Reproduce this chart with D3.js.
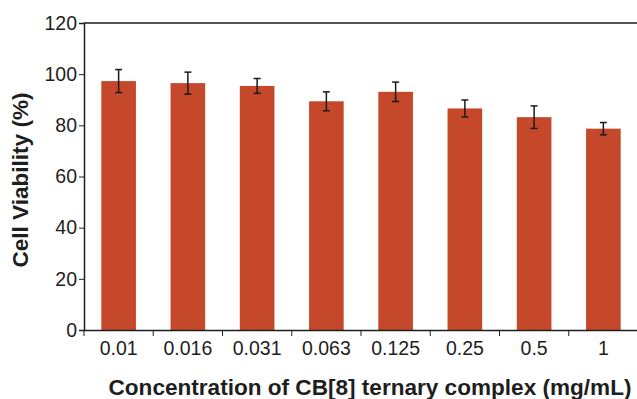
<!DOCTYPE html>
<html>
<head>
<meta charset="utf-8">
<script src="https://cdn.jsdelivr.net/npm/d3@7"></script>
<style>
  body { margin: 0; background: #fff; }
  text { font-family: "Liberation Sans", Arial, sans-serif; fill: #1e1e1e; }
</style>
</head>
<body>
<div id="chart"></div>
<script>
const svgWidth = 637;
const svgHeight = 399;

// data
const concentrations = ['0.01', '0.016', '0.031', '0.063', '0.125', '0.25', '0.5', '1'];
const viability = [97.3, 96.5, 95.4, 89.4, 93.1, 86.6, 83.2, 78.7];
const errors = [4.5, 4.3, 2.9, 3.7, 3.8, 3.3, 4.4, 2.4];
const yTicks = [0, 20, 40, 60, 80, 100, 120];

const plotLeft = 84, plotRight = 638, plotTop = 23, plotBottom = 330;

const xScale = d3.scaleBand()
    .domain(concentrations)
    .range([plotLeft, plotRight])
    .paddingInner(0.5)
    .paddingOuter(0.25);
const bandScale = d3.scaleBand()
    .domain(concentrations)
    .range([plotLeft, plotRight]);
const yScale = d3.scaleLinear()
    .domain([0, 120])
    .range([plotBottom, plotTop]);

const svg = d3.select('#chart')
    .append('svg')
    .attr('width', svgWidth)
    .attr('height', svgHeight);

// bars
svg.append('g')
    .selectAll('rect')
    .data(concentrations)
    .enter()
    .append('rect')
    .attr('x', d => xScale(d))
    .attr('y', (d, i) => yScale(viability[i]))
    .attr('width', xScale.bandwidth())
    .attr('height', (d, i) => yScale(0) - yScale(viability[i]))
    .attr('fill', '#c6482b');

// error bars
const err = svg.append('g')
    .attr('stroke', '#1a1a1a')
    .attr('stroke-width', 1.5);
concentrations.forEach((d, i) => {
    const cx = xScale(d) + xScale.bandwidth() / 2;
    const hi = yScale(viability[i] + errors[i]);
    const lo = yScale(viability[i] - errors[i]);
    err.append('line').attr('x1', cx).attr('x2', cx).attr('y1', hi).attr('y2', lo);
    err.append('line').attr('x1', cx - 3.5).attr('x2', cx + 3.5).attr('y1', hi).attr('y2', hi);
    err.append('line').attr('x1', cx - 3.5).attr('x2', cx + 3.5).attr('y1', lo).attr('y2', lo);
});

// y axis
const yAxis = d3.axisLeft(yScale).tickValues(yTicks).tickSize(5).tickPadding(2);
const yg = svg.append('g')
    .attr('transform', `translate(${plotLeft}, 0)`)
    .call(yAxis);
yg.selectAll('text').attr('font-size', 19.5).style('font-family', '"Liberation Sans", Arial, sans-serif');

// x axis: labels centred, ticks on band edges
const xAxis = d3.axisBottom(bandScale).tickSize(0).tickPadding(11);
const xg = svg.append('g')
    .attr('transform', `translate(0, ${plotBottom})`)
    .call(xAxis);
xg.selectAll('text').attr('font-size', 19.5).style('font-family', '"Liberation Sans", Arial, sans-serif');
xg.selectAll('.edge')
    .data(concentrations)
    .enter()
    .append('line')
    .attr('x1', d => bandScale(d))
    .attr('x2', d => bandScale(d))
    .attr('y1', 0)
    .attr('y2', 6)
    .attr('stroke', '#1e1e1e');

svg.selectAll('.domain').attr('stroke', '#1e1e1e').attr('stroke-width', 1.5);
svg.selectAll('.tick line').attr('stroke', '#1e1e1e');

// top frame line
svg.append('line')
    .attr('x1', plotLeft)
    .attr('x2', plotRight)
    .attr('y1', plotTop)
    .attr('y2', plotTop)
    .attr('stroke', '#1e1e1e')
    .attr('stroke-width', 1.5);

// labels
svg.append('text')
    .attr('x', 0)
    .attr('y', 0)
    .attr('transform', 'translate(28, 180) rotate(-90)')
    .attr('text-anchor', 'middle')
    .attr('font-size', 21.5)
    .attr('font-weight', 'bold')
    .attr('textLength', 175)
    .attr('lengthAdjust', 'spacingAndGlyphs')
    .text('Cell Viability (%)');
svg.append('text')
    .attr('x', 370)
    .attr('y', 395)
    .attr('text-anchor', 'middle')
    .attr('font-size', 21.5)
    .attr('font-weight', 'bold')
    .attr('textLength', 523)
    .attr('lengthAdjust', 'spacingAndGlyphs')
    .text('Concentration of CB[8] ternary complex (mg/mL)');
</script>
</body>
</html>
